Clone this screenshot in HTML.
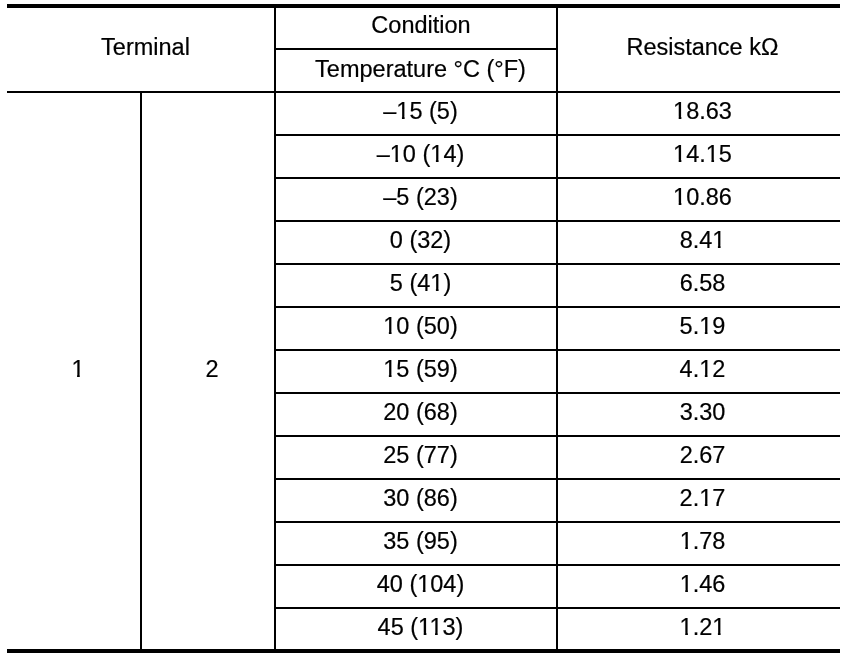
<!DOCTYPE html>
<html><head><meta charset="utf-8">
<style>
html,body{margin:0;padding:0;background:#fff;}
body{width:864px;height:660px;position:relative;overflow:hidden;font-family:"Liberation Sans",sans-serif;color:#000;font-size:23.5px;}
.l{position:absolute;background:#000;}
.t .o{clip-path:polygon(0 0,100% 0,100% 0.8em,0.353em 0.8em,0.353em 100%,0.239em 100%,0.239em 0.8em,0 0.8em);}
.t{position:absolute;text-align:center;white-space:nowrap;line-height:26px;height:26px;-webkit-text-stroke:0.2px #000;}
</style></head><body>
<div class="l" style="left:7px;top:4px;width:833px;height:4px"></div>
<div class="l" style="left:7px;top:649px;width:833px;height:4px"></div>
<div class="l" style="left:274px;top:48px;width:284px;height:2px"></div>
<div class="l" style="left:7px;top:91px;width:833px;height:2px"></div>
<div class="l" style="left:140px;top:91px;width:2px;height:560px"></div>
<div class="l" style="left:274px;top:6px;width:2px;height:645px"></div>
<div class="l" style="left:556px;top:6px;width:2px;height:645px"></div>
<div class="l" style="left:274px;top:134px;width:566px;height:2px"></div>
<div class="l" style="left:274px;top:177px;width:566px;height:2px"></div>
<div class="l" style="left:274px;top:220px;width:566px;height:2px"></div>
<div class="l" style="left:274px;top:263px;width:566px;height:2px"></div>
<div class="l" style="left:274px;top:306px;width:566px;height:2px"></div>
<div class="l" style="left:274px;top:349px;width:566px;height:2px"></div>
<div class="l" style="left:274px;top:392px;width:566px;height:2px"></div>
<div class="l" style="left:274px;top:435px;width:566px;height:2px"></div>
<div class="l" style="left:274px;top:478px;width:566px;height:2px"></div>
<div class="l" style="left:274px;top:521px;width:566px;height:2px"></div>
<div class="l" style="left:274px;top:564px;width:566px;height:2px"></div>
<div class="l" style="left:274px;top:607px;width:566px;height:2px"></div>
<div class="t" style="left:12px;width:267px;top:34px">Terminal</div>
<div class="t" style="left:281px;width:280px;top:12px">Condition</div>
<div class="t" style="left:280.5px;width:280px;top:56px">Temperature °C (°F)</div>
<div class="t" style="left:561.5px;width:282px;top:34px">Resistance kΩ</div>
<div class="t" style="left:11.5px;width:133px;top:356px"><span class="o">1</span></div>
<div class="t" style="left:146px;width:132px;top:356px">2</div>
<div class="t" style="left:280.5px;width:280px;top:98px">–<span class="o">1</span>5 (5)</div>
<div class="t" style="left:561.5px;width:282px;top:98px"><span class="o">1</span>8.63</div>
<div class="t" style="left:280.5px;width:280px;top:141px">–<span class="o">1</span>0 (<span class="o">1</span>4)</div>
<div class="t" style="left:561.5px;width:282px;top:141px"><span class="o">1</span>4.<span class="o">1</span>5</div>
<div class="t" style="left:280.5px;width:280px;top:184px">–5 (23)</div>
<div class="t" style="left:561.5px;width:282px;top:184px"><span class="o">1</span>0.86</div>
<div class="t" style="left:280.5px;width:280px;top:227px">0 (32)</div>
<div class="t" style="left:561.5px;width:282px;top:227px">8.4<span class="o">1</span></div>
<div class="t" style="left:280.5px;width:280px;top:270px">5 (4<span class="o">1</span>)</div>
<div class="t" style="left:561.5px;width:282px;top:270px">6.58</div>
<div class="t" style="left:280.5px;width:280px;top:313px"><span class="o">1</span>0 (50)</div>
<div class="t" style="left:561.5px;width:282px;top:313px">5.<span class="o">1</span>9</div>
<div class="t" style="left:280.5px;width:280px;top:356px"><span class="o">1</span>5 (59)</div>
<div class="t" style="left:561.5px;width:282px;top:356px">4.<span class="o">1</span>2</div>
<div class="t" style="left:280.5px;width:280px;top:399px">20 (68)</div>
<div class="t" style="left:561.5px;width:282px;top:399px">3.30</div>
<div class="t" style="left:280.5px;width:280px;top:442px">25 (77)</div>
<div class="t" style="left:561.5px;width:282px;top:442px">2.67</div>
<div class="t" style="left:280.5px;width:280px;top:485px">30 (86)</div>
<div class="t" style="left:561.5px;width:282px;top:485px">2.<span class="o">1</span>7</div>
<div class="t" style="left:280.5px;width:280px;top:528px">35 (95)</div>
<div class="t" style="left:561.5px;width:282px;top:528px"><span class="o">1</span>.78</div>
<div class="t" style="left:280.5px;width:280px;top:571px">40 (<span class="o">1</span>04)</div>
<div class="t" style="left:561.5px;width:282px;top:571px"><span class="o">1</span>.46</div>
<div class="t" style="left:280.5px;width:280px;top:614px">45 (<span class="o">1</span><span class="o">1</span>3)</div>
<div class="t" style="left:561.5px;width:282px;top:614px"><span class="o">1</span>.2<span class="o">1</span></div>
</body></html>
